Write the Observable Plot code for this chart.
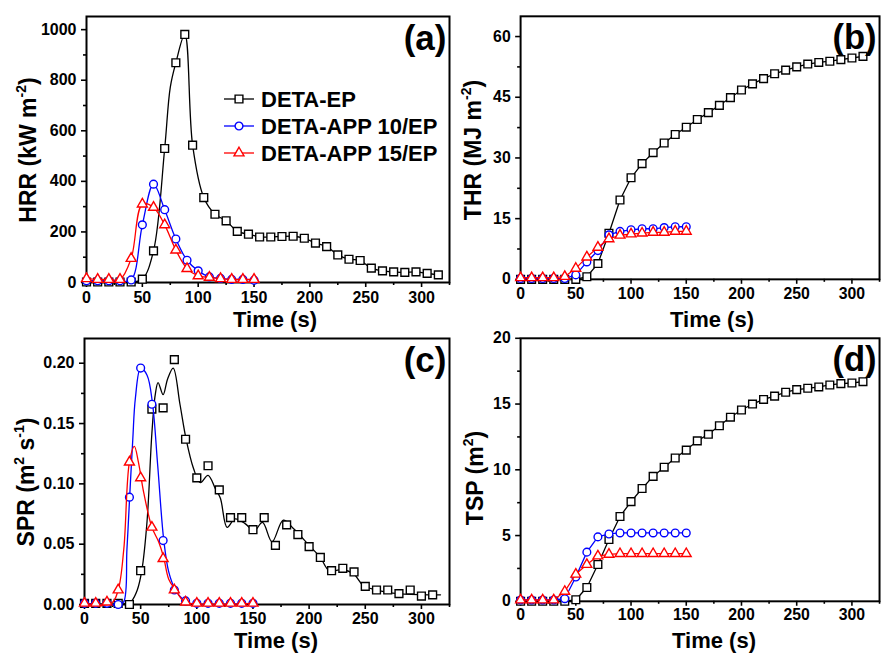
<!DOCTYPE html>
<html><head><meta charset="utf-8">
<script src="https://cdn.jsdelivr.net/npm/d3@7"></script>
<script src="https://cdn.jsdelivr.net/npm/@observablehq/plot@0.6"></script>
<style>
html,body{margin:0;padding:0;background:#fff;}
body{width:883px;height:654px;overflow:hidden;position:relative;font-family:"Liberation Sans",Arial,Helvetica,sans-serif;}
.panel{position:absolute;}
</style></head><body>
<div id="pa" class="panel" style="left:0px;top:0px"></div>
<div id="pb" class="panel" style="left:440px;top:0px"></div>
<div id="pc" class="panel" style="left:0px;top:320px"></div>
<div id="pd" class="panel" style="left:440px;top:320px"></div>
<script>
// ---------- data ----------
const seriesNames = ["DETA-EP", "DETA-APP 10/EP", "DETA-APP 15/EP"];
const tAPP = [0,10,20,30,40,50,60,70,80,90,100,110,120,130,140,150];
const tEP = [0,10,20,30,40,50,60,70,80,90,100,110,120,130,140,150,160,170,180,190,200,210,220,230,240,250,260,270,280,290,300,310];

// HRR (kW m-2)
const tEPhrr = [0,10,20,30,40,50,60,70,80,88,95,105,115,125,135,145,155,165,175,185,195,205,215,225,235,245,255,265,275,285,295,305,315];
const hrrEP = [2,2,2,2,2,13,125,530,869,981,543,336,270,244,202,191,180,180,182,183,175,156,142,109,92,87,57,46,42,40,42,36,30];
const hrrEPLineT = [0,10,20,30,40,50,60,70,75,80,88,95,105,115,125,135,145,155,165,175,185,195,205,215,225,235,245,255,265,275,285,295,305,315];
const hrrEPLineV = [2,2,2,2,2,13,125,530,772,869,981,543,336,270,244,202,191,180,180,182,183,175,156,142,109,92,87,57,46,42,40,42,36,30];
const hrrAPP10 = [7,7,7,7,10,228,389,288,172,88,46,22,16,12,12,9];
const hrrAPP15 = [15,12,12,12,95,310,297,228,128,55,26,20,15,12,12,12];

// THR (MJ m-2)
const thrEP = [0,0,0,0,0,0,0.65,3.9,11.4,19.6,25.1,28.6,31.3,33.7,35.8,37.6,39.5,41.2,43.0,44.9,46.8,48.3,49.6,50.8,51.7,52.5,53.2,53.6,53.9,54.3,54.7,55.1];
const thrAPP10 = [0.2,0.2,0.2,0.2,0.2,1.1,4.3,7.1,11.0,11.85,12.25,12.5,12.5,12.8,13.0,13.0];
const thrAPP15 = [0.4,0.4,0.4,0.4,0.7,2.7,5.5,7.9,10.0,10.9,11.2,11.4,11.6,11.6,11.85,11.85];

// SPR (m2 s-1) markers
const sprEP = [0.001,0.001,0.001,0.001,0.000,0.028,0.162,0.163,0.203,0.137,0.105,0.115,0.095,0.072,0.072,0.062,0.072,0.049,0.066,0.058,0.048,0.039,0.028,0.030,0.027,0.015,0.012,0.012,0.009,0.012,0.007,0.008];
const sprAPP10 = [0.001,0.001,0.001,0.000,0.089,0.196,0.166,0.053,0.012,0.003,0.001,0.001,0.001,0.001,0.001,0.001];
const sprAPP15 = [0.001,0.001,0.002,0.012,0.118,0.105,0.064,0.038,0.012,0.002,0.001,0.001,0.001,0.001,0.001,0.001];
// SPR smoothed curves
const sprEPLineT = [0,38,42,47,51,55.7,60,63,65.5,70,74,79,85,90.5,97,103,110,116.5,121,127,134,143,151,158.5,167,177,186,200,210,218,230,240,248,260,280,310,317];
const sprEPLineV = [0.001,0.001,0.003,0.012,0.028,0.069,0.142,0.174,0.184,0.174,0.187,0.196,0.166,0.137,0.113,0.101,0.107,0.096,0.088,0.064,0.071,0.067,0.061,0.068,0.052,0.070,0.063,0.049,0.039,0.028,0.029,0.025,0.016,0.012,0.009,0.008,0.008];
const sprAPP10LineT = [0,30,34.8,37.8,40.2,43,45.3,50,55.7,60.5,65.2,70.5,75,81,88,94,150];
const sprAPP10LineV = [0.001,0.000,0.002,0.046,0.089,0.137,0.171,0.196,0.190,0.167,0.115,0.054,0.027,0.012,0.004,0.001,0.001];
const sprAPP15LineT = [0,24,30,35,40,44.4,48,52.7,60,66,70.5,75,81,88,94,150];
const sprAPP15LineV = [0.001,0.001,0.012,0.046,0.118,0.131,0.118,0.093,0.064,0.052,0.039,0.021,0.012,0.003,0.001,0.001];

// TSP (m2)
const tspEP = [0,0,0,0,0,0.12,1.05,2.8,4.7,6.45,7.58,8.58,9.5,10.2,10.9,11.5,12.2,12.7,13.35,14.0,14.55,15.0,15.35,15.6,15.9,16.1,16.2,16.3,16.45,16.55,16.6,16.7];
const tspAPP10 = [0.1,0.1,0.1,0.1,0.2,1.85,3.74,4.9,5.12,5.2,5.2,5.2,5.2,5.2,5.2,5.2];
const tspAPP15 = [0.1,0.1,0.1,0.1,0.75,2.06,2.8,3.44,3.57,3.62,3.62,3.62,3.62,3.62,3.62,3.62];

// axes
const xTicks = [0,50,100,150,200,250,300];
const xMinor = [25,75,125,175,225,275,325];
const xDomain = [0,325];
const hrrTicks = [0,200,400,600,800,1000], hrrMinor = [100,300,500,700,900];
const thrTicks = [0,15,30,45,60], thrMinor = [7.5,22.5,37.5,52.5];
const sprTicks = [0,0.05,0.10,0.15,0.20], sprMinor = [0.025,0.075,0.125,0.175];
const tspTicks = [0,5,10,15,20], tspMinor = [2.5,7.5,12.5,17.5];
const panelLetters = ["(a)","(b)","(c)","(d)"];
const xTitle = "Time (s)";
const yTitles = [
  [["HRR (kW m",0],["-2",1],[")",0]],
  [["THR (MJ m",0],["-2",1],[")",0]],
  [["SPR (m",0],["2",1],[" s",0],["-1",1],[")",0]],
  [["TSP (m",0],["2",1],[")",0]]
];

// ---------- drawing ----------
const FONT = '"Liberation Sans", Arial, Helvetica, sans-serif';
const COLORS = ["#000000", "#0000ff", "#ff0000"];
const SYMBOLS = ["square", "circle", "triangle"];
const R = [4.4, 3.9, 3.7];
function zip(t, v) { return t.map((x, i) => ({t: x, v: v[i]})); }

function panel(o) {
  const width = o.mL + o.plotW + 4, height = o.mT + o.plotH + 40;
  const marks = [
    Plot.frame({stroke: "black", strokeWidth: 2}),
    Plot.axisX({ticks: xTicks, tickSize: 5, tickPadding: o.xPad, strokeWidth: 1.6, label: null, fontSize: 16, fontWeight: "bold", tickFormat: d3.format("d")}),
    Plot.axisX({ticks: xMinor, tickSize: 3, strokeWidth: 1.6, label: null, tickFormat: () => ""}),
    Plot.axisY({ticks: o.yTicks, tickSize: 5, tickPadding: 5, strokeWidth: 1.6, label: null, fontSize: 16, fontWeight: "bold", tickFormat: o.yFormat}),
    Plot.axisY({ticks: o.yMinor, tickSize: 3, strokeWidth: 1.6, label: null, tickFormat: () => ""})
  ];
  for (let i = 0; i < 3; i++) {
    marks.push(Plot.line(o.lines[i], {x: "t", y: "v", stroke: COLORS[i], strokeWidth: 1.3, curve: o.curve}));
    marks.push(Plot.dot(o.markers[i], {x: "t", y: "v", symbol: SYMBOLS[i], r: R[i], stroke: COLORS[i], fill: "white", strokeWidth: 1.4}));
  }
  marks.push(Plot.text([o.letter], {frameAnchor: "top-right", text: d => d, dx: -3, dy: 33, fontSize: 35, fontWeight: "bold", textAnchor: "end", lineAnchor: "bottom", fill: "black"}));
  const svg = Plot.plot({
    width, height,
    marginLeft: o.mL, marginTop: o.mT, marginRight: width - o.mL - o.plotW, marginBottom: height - o.mT - o.plotH,
    style: {fontFamily: FONT, fontWeight: "bold", fontSize: "16px", background: "transparent", overflow: "visible", color: "black"},
    x: {domain: xDomain, label: null},
    y: {domain: o.yDomain, label: null},
    marks
  });
  document.getElementById(o.id).appendChild(svg);
}

panel({id: "pa", mL: 86, mT: 16, plotW: 363, plotH: 266, xPad: 4, yDomain: [0, 1052], yTicks: hrrTicks, yMinor: hrrMinor, yFormat: d3.format("d"),
  markers: [zip(tEPhrr, hrrEP), zip(tAPP, hrrAPP10), zip(tAPP, hrrAPP15)],
  lines: [zip(hrrEPLineT, hrrEPLineV), zip(tAPP, hrrAPP10), zip(tAPP, hrrAPP15)],
  curve: "catmull-rom", letter: panelLetters[0]});
panel({id: "pb", mL: 81, mT: 16, plotW: 363, plotH: 266, xPad: 4, yDomain: [0, 65], yTicks: thrTicks, yMinor: thrMinor, yFormat: d3.format("d"),
  markers: [zip(tEP, thrEP), zip(tAPP, thrAPP10), zip(tAPP, thrAPP15)],
  lines: [zip(tEP, thrEP), zip(tAPP, thrAPP10), zip(tAPP, thrAPP15)],
  curve: "linear", letter: panelLetters[1]});
panel({id: "pc", mL: 84, mT: 18, plotW: 365, plotH: 266, xPad: 3, yDomain: [0, 0.2205], yTicks: sprTicks, yMinor: sprMinor, yFormat: d3.format(".2f"),
  markers: [zip(tEP, sprEP), zip(tAPP, sprAPP10), zip(tAPP, sprAPP15)],
  lines: [zip(sprEPLineT, sprEPLineV), zip(sprAPP10LineT, sprAPP10LineV), zip(sprAPP15LineT, sprAPP15LineV)],
  curve: "catmull-rom", letter: panelLetters[2]});
panel({id: "pd", mL: 81, mT: 18, plotW: 363, plotH: 266, xPad: 3, yDomain: [0, 20], yTicks: tspTicks, yMinor: tspMinor, yFormat: d3.format("d"),
  markers: [zip(tEP, tspEP), zip(tAPP, tspAPP10), zip(tAPP, tspAPP15)],
  lines: [zip(tEP, tspEP), zip(tAPP, tspAPP10), zip(tAPP, tspAPP15)],
  curve: "linear", letter: panelLetters[3]});

// ---------- overlay: axis titles and legend ----------
const ov = d3.select("body").append("svg")
  .attr("width", 883).attr("height", 654)
  .style("position", "absolute").style("left", "0px").style("top", "0px").style("pointer-events", "none")
  .attr("font-family", FONT).attr("font-weight", "bold");

const xTitlePos = [[275, 327], [712, 327], [276, 648], [714, 648]];
xTitlePos.forEach(([x, y]) => {
  ov.append("text").attr("x", x).attr("y", y).attr("text-anchor", "middle").attr("font-size", 22).text(xTitle);
});
const yTitlePos = [[36, 150], [481, 150], [34, 482], [483, 478]];
yTitles.forEach((parts, i) => {
  const [x, y] = yTitlePos[i];
  const t = ov.append("text").attr("transform", `translate(${x},${y}) rotate(-90)`).attr("text-anchor", "middle").attr("font-size", 23);
  let raised = false;
  parts.forEach(([s, sup]) => {
    const ts = t.append("tspan").text(s);
    if (sup && !raised) { ts.attr("font-size", 14).attr("dy", -10); raised = true; }
    else if (!sup && raised) { ts.attr("dy", 10); raised = false; }
    else if (sup) ts.attr("font-size", 14);
  });
});

// legend (panel a)
const legY = [99, 126, 153];
const symTypes = [d3.symbolSquare, d3.symbolCircle, d3.symbolTriangle];
seriesNames.forEach((name, i) => {
  const y = legY[i];
  ov.append("line").attr("x1", 224).attr("x2", 254).attr("y1", y).attr("y2", y).attr("stroke", COLORS[i]).attr("stroke-width", 1.3);
  ov.append("path").attr("d", d3.symbol(symTypes[i], Math.PI * R[i] * R[i])()).attr("transform", `translate(239,${y})`)
    .attr("fill", "white").attr("stroke", COLORS[i]).attr("stroke-width", 1.4);
  ov.append("text").attr("x", 261).attr("y", y + 8).attr("font-size", 22).text(name);
});
</script>
</body></html>
